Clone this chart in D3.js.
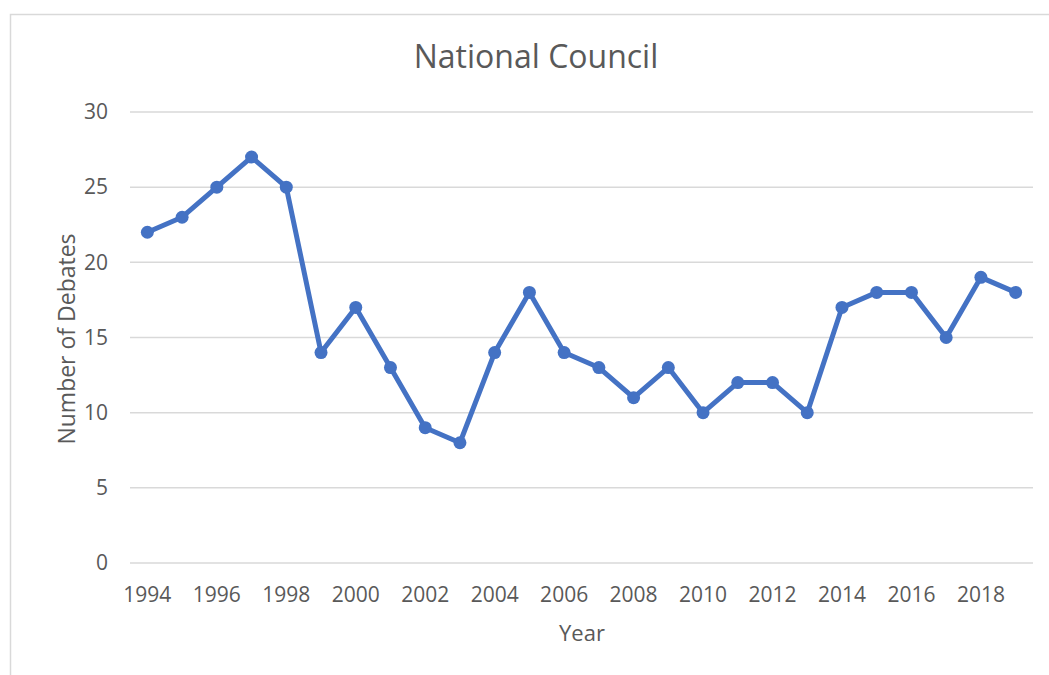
<!DOCTYPE html>
<html lang="en">
<head>
<meta charset="UTF-8">
<title>National Council</title>
<script src="https://d3js.org/d3.v7.min.js"></script>
<style>
    body { margin: 0; background: #fff; }
    text { font-family: "Open Sans", Lato, sans-serif; fill: #595959; }
</style>
</head>
<body>
<div id="chart"></div>
<script>
    const years = [1994, 1995, 1996, 1997, 1998, 1999, 2000, 2001, 2002, 2003, 2004, 2005, 2006,
                   2007, 2008, 2009, 2010, 2011, 2012, 2013, 2014, 2015, 2016, 2017, 2018, 2019];
    const debates = [22, 23, 25, 27, 25, 14, 17, 13, 9, 8, 14, 18, 14,
                     13, 11, 13, 10, 12, 12, 10, 17, 18, 18, 15, 19, 18];
    const yTicks = [0, 5, 10, 15, 20, 25, 30];
    const xTickLabels = years.filter((d, i) => i % 2 === 0);

    const W = 1049, H = 675;
    const margin = {top: 112, right: 16, bottom: 112, left: 130};
    const width = 1033 - margin.left;
    const height = 563 - margin.top;

    const svg = d3.select("#chart").append("svg")
        .attr("width", W)
        .attr("height", H);

    // chart area border
    svg.append("rect")
        .attr("x", 10.5).attr("y", 14.5)
        .attr("width", W + 10).attr("height", H + 10)
        .attr("fill", "none")
        .attr("stroke", "#d9d9d9")
        .attr("stroke-width", 1.5);

    const g = svg.append("g")
        .attr("transform", `translate(${margin.left},${margin.top})`);

    const x = d3.scaleBand().domain(years).range([0, width]).padding(0);
    const y = d3.scaleLinear().domain([0, 30]).range([height, 0]);

    // gridlines
    g.selectAll("line.grid")
        .data(yTicks)
        .enter().append("line")
        .attr("class", "grid")
        .attr("x1", 0).attr("x2", width)
        .attr("y1", d => y(d)).attr("y2", d => y(d))
        .attr("stroke", "#d9d9d9")
        .attr("stroke-width", 1.5);

    // y axis labels
    const yAxis = g.append("g")
        .call(d3.axisLeft(y).tickValues(yTicks).tickSize(0).tickPadding(22));
    yAxis.select(".domain").remove();
    yAxis.selectAll("text")
        .style("font-size", "21px")
        .attr("fill", "#595959");

    // x axis labels
    const xAxis = g.append("g")
        .attr("transform", `translate(0,${height})`)
        .call(d3.axisBottom(x).tickValues(xTickLabels).tickSize(0).tickPadding(24));
    xAxis.select(".domain").remove();
    xAxis.selectAll("text")
        .style("font-size", "21px")
        .attr("fill", "#595959");

    // line
    const line = d3.line()
        .x((d, i) => x(years[i]) + x.bandwidth() / 2)
        .y(d => y(d));

    g.append("path")
        .datum(debates)
        .attr("d", line)
        .attr("fill", "none")
        .attr("stroke", "#4472C4")
        .attr("stroke-width", 5)
        .attr("stroke-linejoin", "round");

    g.selectAll("circle.pt")
        .data(debates)
        .enter().append("circle")
        .attr("class", "pt")
        .attr("cx", (d, i) => x(years[i]) + x.bandwidth() / 2)
        .attr("cy", d => y(d))
        .attr("r", 6.5)
        .attr("fill", "#4472C4");

    // titles
    svg.append("text")
        .attr("x", 536).attr("y", 68)
        .attr("text-anchor", "middle")
        .style("font-size", "32px")
        .text("National Council");

    svg.append("text")
        .attr("x", 582).attr("y", 641)
        .attr("text-anchor", "middle")
        .style("font-size", "22px")
        .text("Year");

    svg.append("text")
        .attr("transform", "translate(75,339) rotate(-90)")
        .attr("text-anchor", "middle")
        .style("font-size", "23px")
        .text("Number of Debates");
</script>
</body>
</html>
